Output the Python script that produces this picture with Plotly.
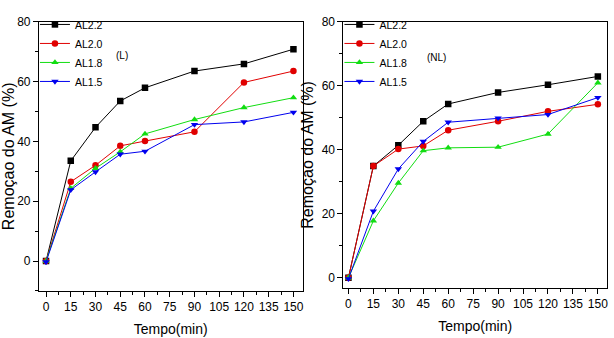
import plotly.graph_objects as go

tempo = [0, 15, 30, 45, 60, 90, 120, 150]
series_names = ["AL2.2", "AL2.0", "AL1.8", "AL1.5"]

# Panel (L)
L_AL22 = [0, 33.5, 44.7, 53.5, 57.9, 63.5, 65.9, 70.8]
L_AL20 = [0, 26.5, 32.0, 38.5, 40.1, 43.2, 59.7, 63.5]
L_AL18 = [0, 24.3, 31.0, 36.5, 42.5, 47.3, 51.3, 54.6]
L_AL15 = [-0.3, 23.8, 29.8, 35.7, 36.7, 45.6, 46.5, 49.7]

# Panel (NL)
NL_AL22 = [0, 34.9, 41.4, 48.9, 54.3, 57.9, 60.3, 62.9]
NL_AL20 = [0, 34.9, 40.2, 41.2, 46.1, 48.9, 52.0, 54.2]
NL_AL18 = [0, 17.8, 29.6, 39.7, 40.6, 40.8, 44.9, 60.9]
NL_AL15 = [-0.3, 20.8, 34.0, 42.6, 48.6, 49.9, 51.0, 56.3]

x_ticks = [0, 15, 30, 45, 60, 75, 90, 105, 120, 135, 150]
y_ticks = [0, 20, 40, 60, 80]

colors = ["#000000", "#e00000", "#11dd11", "#0000ee"]
symbols = ["square", "circle", "triangle-up", "triangle-down"]

FONT = "Liberation Sans, Arial, sans-serif"

fig = go.Figure()

for vals, name, c, s in zip([L_AL22, L_AL20, L_AL18, L_AL15], series_names, colors, symbols):
    fig.add_trace(go.Scatter(x=tempo, y=vals, name=name, mode="lines+markers",
                             line=dict(color=c, width=1),
                             marker=dict(symbol=s, size=6.5, color=c),
                             xaxis="x", yaxis="y", legend="legend"))
for vals, name, c, s in zip([NL_AL22, NL_AL20, NL_AL18, NL_AL15], series_names, colors, symbols):
    fig.add_trace(go.Scatter(x=tempo, y=vals, name=name, mode="lines+markers",
                             line=dict(color=c, width=1),
                             marker=dict(symbol=s, size=6.5, color=c),
                             xaxis="x2", yaxis="y2", legend="legend2"))

W, H = 614, 338
def dx(a, b):
    return [a / W, b / W]
def dy(top, bottom):
    return [1 - bottom / H, 1 - top / H]

axis_common = dict(showline=True, linecolor="black", linewidth=1, mirror=True,
                   ticks="outside", ticklen=5, tickcolor="black", showgrid=False,
                   zeroline=False, tickfont=dict(family=FONT, size=12, color="black"))

xa = dict(axis_common, tickvals=x_ticks,
          minor=dict(ticks="outside", ticklen=3, dtick=7.5, tick0=0, tickcolor="black"),
          title=dict(text="Tempo(min)", font=dict(family=FONT, size=14, color="black"), standoff=10))
ya = dict(axis_common, tickvals=y_ticks,
          minor=dict(ticks="outside", ticklen=3, dtick=10, tick0=0, tickcolor="black"),
          title=dict(text="Remoçao do AM (%)", font=dict(family=FONT, size=16, color="black"), standoff=4))

legend_common = dict(xanchor="left", yanchor="top", bgcolor="rgba(0,0,0,0)",
                     font=dict(family=FONT, size=10.5, color="black"),
                     tracegroupgap=0, itemwidth=30)

fig.update_layout(
    width=W, height=H, margin=dict(l=0, r=0, t=0, b=0),
    paper_bgcolor="white", plot_bgcolor="white",
    showlegend=True,
    xaxis=dict(xa, domain=dx(39, 303), range=[-4.3, 155.5], anchor="y"),
    yaxis=dict(ya, domain=dy(15, 290), range=[-10, 80], anchor="x"),
    xaxis2=dict(xa, domain=dx(344, 608), range=[-3, 155.5], anchor="y2"),
    yaxis2=dict(ya, domain=dy(15, 287), range=[-3.2, 80], anchor="x2"),
    legend=dict(legend_common, x=35 / W, y=1 - 3 / H),
    legend2=dict(legend_common, x=340 / W, y=1 - 3 / H),
    annotations=[
        dict(text="(L)", x=122 / W, y=1 - 50 / H, xref="paper", yref="paper",
             xanchor="center", yanchor="middle",
             showarrow=False, font=dict(family=FONT, size=10, color="black")),
        dict(text="(NL)", x=437 / W, y=1 - 52 / H, xref="paper", yref="paper",
             xanchor="center", yanchor="middle",
             showarrow=False, font=dict(family=FONT, size=10, color="black")),
    ],
)

fig.write_html("out.html")
